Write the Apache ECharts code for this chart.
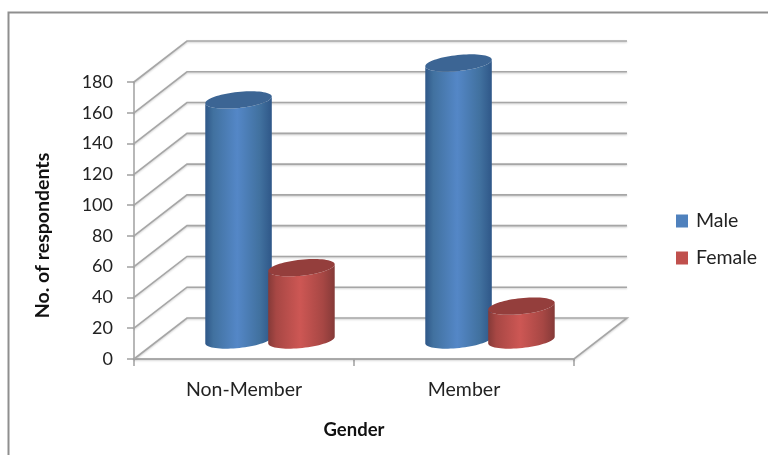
<!DOCTYPE html>
<html><head><meta charset="utf-8">
<style>html,body{margin:0;padding:0;background:#fff}#c{width:768px;height:455px}</style>
<script src="https://cdn.jsdelivr.net/npm/echarts@6/dist/echarts.min.js"></script>
</head><body><div id="c"></div>
<script>
const categories = ['Non-Member', 'Member'];
const male = [156, 180];
const female = [47, 22];
const yTicks = [0, 20, 40, 60, 80, 100, 120, 140, 160, 180];

const FONT = 'Lato';
const DX = 53, DY = -41;
const GRID = '#a6a6a6';

function wallItem(params, api) {
  const cs = params.coordSys;
  const p = api.coord([0, api.value(0)]);
  const y = p[1], l = cs.x, r = cs.x + cs.width;
  const pts = [[l, y], [l + DX, y + DY], [r + DX, y + DY]];
  if (api.value(0) === 0) pts.push([r, y], [l, y]);
  return {
    type: 'polyline',
    shape: { points: pts },
    style: { stroke: GRID, lineWidth: 1.6, fill: null, shadowColor: 'rgba(0,0,0,0.2)', shadowBlur: 2, shadowOffsetY: 1 },
    silent: true
  };
}

function cylinder(side, colors) {
  return function (params, api) {
    const cat = api.value(0), val = api.value(1);
    const band = api.size([1, 0])[0];
    const base = api.coord([cat, 0]), top = api.coord([cat, val]);
    const rx = band * 0.152, cx = base[0] + side * band * 0.143 + 26, ry = 8, tilt = -6 * Math.PI / 180;
    const by = base[1] - 19, ty = top[1] - 19;
    const pt = (a, yc) => {
      const ex = rx * Math.cos(a), ey = ry * Math.sin(a);
      return [cx + ex * Math.cos(tilt) - ey * Math.sin(tilt), yc + ex * Math.sin(tilt) + ey * Math.cos(tilt)];
    };
    const body = [], cap = [];
    for (let i = 0; i <= 36; i++) body.push(pt(Math.PI * i / 36, by));
    for (let i = 0; i <= 36; i++) body.push(pt(Math.PI - Math.PI * i / 36, ty));
    for (let i = 0; i < 72; i++) cap.push(pt(2 * Math.PI * i / 72, ty));
    const grad = new echarts.graphic.LinearGradient(0, 0, 1, 0, [
      { offset: 0, color: colors[0] }, { offset: 0.12, color: colors[1] },
      { offset: 0.48, color: colors[2] }, { offset: 0.82, color: colors[1] },
      { offset: 1, color: colors[0] }
    ]);
    return {
      type: 'group',
      children: [
        { type: 'polygon', shape: { points: body }, style: { fill: grad } },
        { type: 'polygon', shape: { points: cap }, style: { fill: colors[3] } }
      ]
    };
  };
}

const chart = echarts.init(document.getElementById('c'), null, { renderer: 'canvas' });
chart.setOption({
  animation: false,
  backgroundColor: '#fff',
  textStyle: { fontFamily: FONT },
  graphic: [{ type: 'rect', shape: { x: 8.5, y: 12.5, width: 800, height: 480 }, style: { fill: 'none', stroke: '#8f8f8f', lineWidth: 2 }, z: -1 }],
  grid: { left: 134, right: 194, top: 82, bottom: 96 },
  legend: {
    data: ['Male', 'Female'], orient: 'vertical', left: 676, top: 211, padding: 0, itemWidth: 12, itemHeight: 13, itemGap: 17,
    icon: 'rect', textStyle: { fontFamily: FONT, fontSize: 19.5, color: '#222', padding: [0, 0, 0, 3] }
  },
  xAxis: {
    type: 'category', data: categories, boundaryGap: true,
    axisLine: { lineStyle: { color: GRID, width: 1.6 } },
    axisTick: { show: true, length: 7, alignWithLabel: false, lineStyle: { color: GRID, width: 1.6 } },
    axisLabel: { fontFamily: FONT, fontSize: 19.5, color: '#222', margin: 21 },
    name: 'Gender', nameLocation: 'middle', nameGap: 62,
    nameTextStyle: { fontFamily: FONT, fontSize: 18.5, fontWeight: 'bold', color: '#111' }
  },
  yAxis: {
    type: 'value', min: 0, max: 180, interval: 20,
    splitLine: { show: false },
    axisLine: { show: true, lineStyle: { color: GRID, width: 1.6 } },
    axisTick: { show: true, length: 7, lineStyle: { color: GRID, width: 1.6 } },
    axisLabel: { fontFamily: FONT, fontSize: 18, color: '#222', margin: 21 },
    name: 'No. of respondents', nameLocation: 'middle', nameGap: 81, nameRotate: 90,
    nameTextStyle: { fontFamily: FONT, fontSize: 19.5, fontWeight: 'bold', color: '#111', padding: [0, 30, 0, 0] }
  },
  series: [
    { name: 'walls', type: 'custom', renderItem: wallItem, data: yTicks.map(v => [v]), encode: { x: -1, y: 0 }, silent: true, z: 1, clip: false },
    { name: 'Male', type: 'custom', renderItem: cylinder(-1, ['#2f5788', '#41719f', '#5487c7', '#3c6594']), data: categories.map((c, i) => [i, male[i]]), encode: { x: 0, y: 1 }, itemStyle: { color: '#4f81bd' }, z: 2, clip: false },
    { name: 'Female', type: 'custom', renderItem: cylinder(1, ['#853a38', '#a74744', '#cd5754', '#943e3c']), data: categories.map((c, i) => [i, female[i]]), encode: { x: 0, y: 1 }, itemStyle: { color: '#c0504d' }, z: 3, clip: false }
  ]
});
</script></body></html>
